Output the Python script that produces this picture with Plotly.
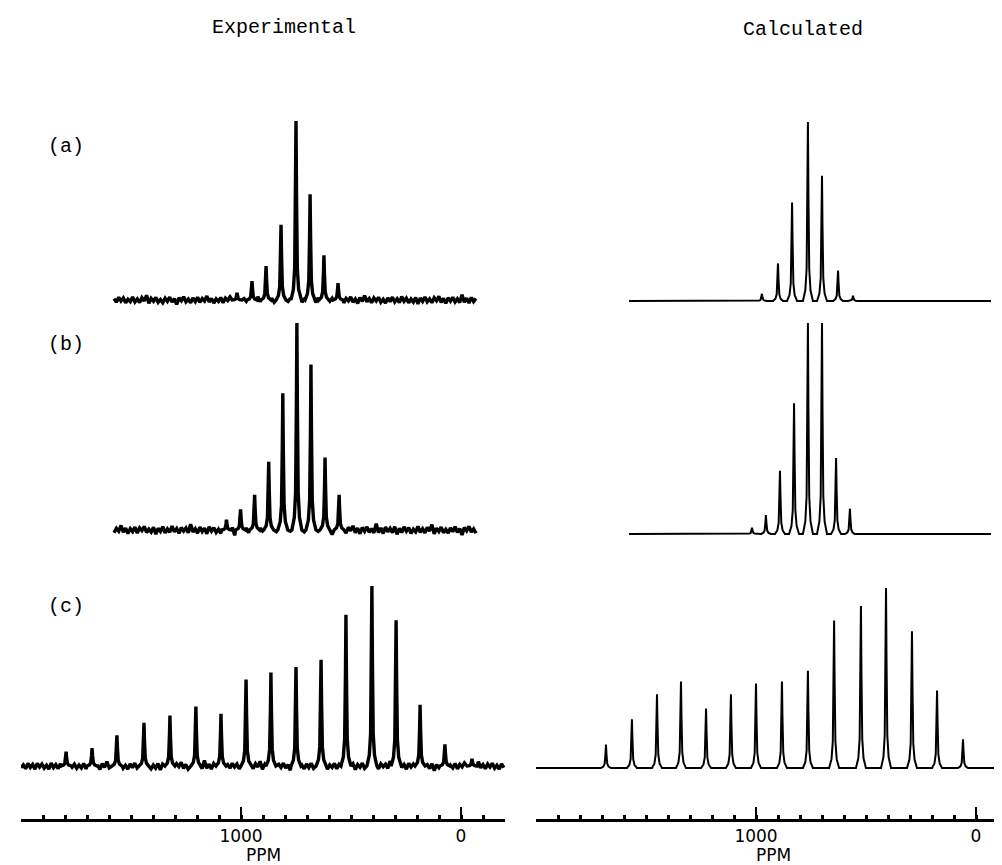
import numpy as np
import plotly.graph_objects as go

W, H = 1002, 865

# ---------------- data (ppm, relative intensity) ----------------
a_exp_ppm = [1018, 950, 886, 818, 750, 686, 623, 559]
a_exp_int = [4, 10.6, 19, 42, 100, 59, 25, 9.5]
a_calc_ppm = [973, 900, 836, 764, 700, 627, 559]
a_calc_int = [4, 21, 55, 100, 70, 17, 3]

b_exp_ppm = [1066, 1002, 938, 874, 810, 746, 682, 618, 554]
b_exp_int = [5, 10, 17, 33, 66, 100, 80, 35, 17]
b_calc_ppm = [1018, 955, 891, 827, 764, 700, 636, 573]
b_calc_int = [3, 9, 30, 62, 100, 100, 36, 12]

c_exp_ppm = [1795, 1677, 1564, 1441, 1323, 1205, 1091, 977, 864, 750, 636, 523, 405, 295, 186, 73, -50]
c_exp_int = [8, 10, 17, 24, 28, 33, 29, 48, 52, 55, 59, 84, 100, 81, 34, 12, 4]
c_calc_ppm = [1682, 1564, 1450, 1341, 1227, 1114, 1000, 882, 764, 645, 523, 409, 291, 177, 59]
c_calc_int = [13, 27, 41, 48, 33, 41, 47, 48, 54, 82, 90, 100, 76, 43, 16]

# spectral extents (ppm)
ab_span = [1577, -68]
c_exp_span = [2000, -195]
c_calc_span = [2000, -250]

# baseline noise of the experimental traces (relative units), read roughly
noise = [0.8, -1.2, 1.5, -0.6, 1.1, -1.6, 0.4, -0.9, 1.7, -1.1, 0.6, -1.4, 1.3, -0.5, 2.6, -1.8, 0.9, -0.7, 1.4, -1.3,
         0.3, -1.5, 1.0, -0.8, 1.6, -1.2, 0.7, -2.4, 1.2, -0.4, 1.8, -1.0, 0.5, -1.6, 1.1, -0.9, 1.5, -1.3, 0.8, -0.6,
         2.2, -1.1, 0.9, -1.7, 0.6, -0.8, 1.4, -1.5, 1.0, -0.3, 1.7, -1.2, 0.4, -1.0, 1.3, -2.0, 0.8, -0.7, 1.6, -1.4,
         0.5, -1.1, 1.9, -0.9, 0.7, -1.6, 1.2, -0.5, 1.0, -1.3, 2.8, -1.0, 0.6, -1.5, 1.4, -0.8, 0.9, -1.8, 1.5, -0.6,
         1.1, -1.2, 0.4, -1.7, 1.6, -0.9, 0.8, -1.4, 1.2, -2.6, 0.7, -1.0, 1.8, -0.7, 1.0, -1.3, 0.5, -1.1, 1.4, -1.6,
         0.9, -0.5, 1.7, -1.2, 0.6, -1.9, 1.3, -0.8, 2.4, -1.0, 0.8, -1.5, 1.1, -0.6, 1.5, -1.3, 0.4, -1.7, 1.2, -0.9,
         1.6, -1.1, 0.7, -1.4, 1.9, -0.7, 1.0, -1.6, 0.5, -1.2, 1.4, -2.2, 1.1, -0.8, 1.7, -1.0, 0.6, -1.5, 1.3, -0.4,
         2.0, -1.3, 0.9, -1.8, 1.2, -0.6, 1.5, -1.1, 0.7, -1.4, 3.0, -1.2, 1.0, -1.7, 1.4, -0.9, 0.8, -1.3, 1.6, -2.1]

# axis ticks
major_ticks = [2000, 1000, 0]
major_text = ["", "1000", "0"]

# ---------------- geometry (pixels) ----------------
PX_PER_PPM = 0.22
LEFT_DOM = (13, 497)
RIGHT_DOM = (528, W)
AXIS_Y = 812

# peak template: offsets (px) and fraction of peak height
TPL_PX = [-5, -2.6, -1.3, -0.5, 0, 0.5, 1.3, 2.6, 5]
TPL_FR = [0, 0.06, 0.18, 0.6, 1, 0.6, 0.18, 0.06, 0]
HALF = 5.5 / PX_PER_PPM
NOISE_STEP_PX = 2.3


def spectrum(ppm, inten, span, noisy=False, start=0):
    pts = []
    if not noisy:
        pts = [(span[0], 0.0), (span[1], 0.0)]
    else:
        n = int(abs(span[0] - span[1]) * PX_PER_PPM / NOISE_STEP_PX)
        xs = np.linspace(span[0], span[1], n)
        for i, x in enumerate(xs):
            if all(abs(x - p) > HALF for p in ppm):
                pts.append((float(x), noise[(i + start) % len(noise)]))
    for p, h in zip(ppm, inten):
        for o, f in zip(TPL_PX, TPL_FR):
            pts.append((p - o / PX_PER_PPM, f * h))
    pts.sort(key=lambda t: -t[0])
    return [t[0] for t in pts], [t[1] for t in pts]


def ydom(base_px, top_px, dom_top, dom_bot):
    u = 100.0 / (base_px - top_px)
    return dict(domain=[1 - dom_bot / H, 1 - dom_top / H],
                range=[-(dom_bot - base_px) * u, 100 + (top_px - dom_top) * u],
                visible=False, fixedrange=True)


fig = go.Figure()

panels = [
    # (ppm, int, span, noisy, start, xaxis, yaxis, base, top, dom_top, dom_bot, width)
    (a_exp_ppm, a_exp_int, ab_span, True, 0, "x", "y", 292, 113, 95, 312, 3.4),
    (a_calc_ppm, a_calc_int, ab_span, False, 0, "x2", "y2", 293, 114, 95, 312, 2.0),
    (b_exp_ppm, b_exp_int, ab_span, True, 37, "x", "y3", 522, 315, 300, 545, 3.4),
    (b_calc_ppm, b_calc_int, ab_span, False, 0, "x2", "y4", 526, 315, 300, 545, 2.0),
    (c_exp_ppm, c_exp_int, c_exp_span, True, 71, "x", "y5", 758, 578, 560, 790, 3.4),
    (c_calc_ppm, c_calc_int, c_calc_span, False, 0, "x2", "y6", 760, 580, 560, 790, 2.0),
]

layout_axes = {}
for ppm, inten, span, noisy, start, xa, ya, base, top, dt, db, lw in panels:
    xs, ys = spectrum(ppm, inten, span, noisy, start)
    fig.add_trace(go.Scatter(x=xs, y=ys, mode="lines", xaxis=xa, yaxis=ya,
                             line=dict(color="black", width=lw), hoverinfo="skip",
                             showlegend=False))
    key = "yaxis" if ya == "y" else "yaxis" + ya[1:]
    layout_axes[key] = ydom(base, top, dt, db)

num_font = dict(family="DejaVu Sans", size=17, color="black")


def xax(dom_px):
    return dict(domain=[dom_px[0] / W, dom_px[1] / W],
                range=[2000, 2000 - (dom_px[1] - dom_px[0]) / PX_PER_PPM],
                anchor="free", position=1 - AXIS_Y / H,
                showline=True, linecolor="black", linewidth=3,
                showgrid=False, zeroline=False,
                tickmode="array", tickvals=major_ticks, ticktext=major_text,
                ticks="inside", ticklen=12, tickwidth=2, tickcolor="black",
                minor=dict(dtick=100, ticks="inside", ticklen=4, tickwidth=3,
                           tickcolor="black", showgrid=False),
                tickfont=num_font, fixedrange=True)


layout_axes["xaxis"] = xax(LEFT_DOM)
layout_axes["xaxis2"] = xax(RIGHT_DOM)

mono = dict(family="Liberation Mono", size=20, color="black")
annotations = [
    dict(text="Experimental", x=276 / W, y=1 - 20 / H, font=mono),
    dict(text="Calculated", x=795 / W, y=1 - 21 / H, font=mono),
    dict(text="(a)", x=58 / W, y=1 - 138 / H, font=mono),
    dict(text="(b)", x=58 / W, y=1 - 336 / H, font=mono),
    dict(text="(c)", x=58 / W, y=1 - 598 / H, font=mono),
    dict(text="PPM", x=255 / W, y=1 - 847 / H, font=num_font),
    dict(text="PPM", x=765 / W, y=1 - 847 / H, font=num_font),
]
for a in annotations:
    a.update(xref="paper", yref="paper", showarrow=False,
             xanchor="center", yanchor="middle", borderpad=0)

fig.update_layout(width=W, height=H, margin=dict(l=0, r=0, t=0, b=0),
                  paper_bgcolor="white", plot_bgcolor="rgba(0,0,0,0)",
                  annotations=annotations, showlegend=False, **layout_axes)

fig.write_html("out.html")
